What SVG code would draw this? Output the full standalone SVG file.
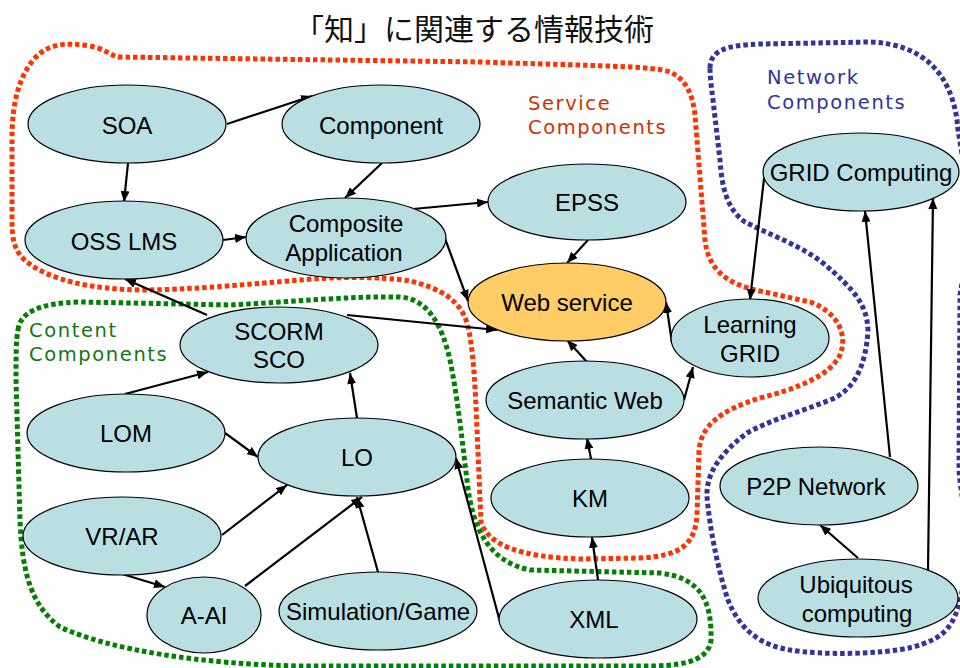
<svg xmlns="http://www.w3.org/2000/svg" width="960" height="668" viewBox="0 0 960 668">
<defs>
<marker id="ah" markerWidth="11" markerHeight="9" refX="11" refY="4.5" orient="auto" markerUnits="userSpaceOnUse"><path d="M0,0 L11,4.5 L0,9 z" fill="#000"/></marker>
<style>
.n ellipse{fill:#B9DFE3;stroke:#000;stroke-width:1.2}
.n text{font-family:"Liberation Sans",Arial,sans-serif;font-size:24px;fill:#000;text-anchor:middle}
.c line{stroke:#000;stroke-width:2.2;marker-end:url(#ah)}
.b{fill:none;stroke-width:5;stroke-dasharray:4.5 3}
.g{font-family:"DejaVu Sans",Verdana,sans-serif;font-size:19.5px;letter-spacing:1.6px}
</style>
</defs>
<rect width="960" height="668" fill="#fff"/>
<text x="474" y="40" text-anchor="middle" font-family="'Noto Sans CJK JP','Noto Sans CJK SC',sans-serif" font-size="30" fill="#111">「知」に関連する情報技術</text>

<g id="boundaries">
<path id="service-boundary" class="b" stroke="#FF3300" d="M118,57 L480,62 C600,66 655,66 670,72 C688,80 693,98 695,115 L705,240 C708,268 725,284 760,291 L810,302 C838,312 848,335 840,355 C830,375 800,388 760,398 C722,410 700,425 699,452 L697,515 C695,545 680,556 640,558 L580,559 C520,557 488,545 481,522 L477,430 C475,380 473,345 467,323 C460,300 440,288 410,281 C380,276 330,277 300,280 C250,284 190,290 140,290 C90,289 50,280 27,262 C12,250 12,235 12,215 L12,140 C12,100 20,75 35,58 C48,44 65,42 90,46 C105,49 110,55 118,57 Z"/>
<path id="content-boundary" class="b" stroke="#008000" d="M18,330 C20,312 40,303 80,302 L230,305 C290,302 350,296 400,297 C428,299 442,325 450,360 C458,400 462,440 467,480 C472,530 490,562 530,570 L660,573 C700,578 712,600 711,640 C709,658 690,665 655,666 L300,666 C200,664 110,650 60,627 C30,605 22,570 20,520 L16,380 C16,355 16,340 18,330 Z"/>
<path id="network-boundary" class="b" stroke="#333399" d="M710,68 C710,50 728,45 760,44 L870,42 C922,44 950,72 957,120 C958,135 962,150 966,180 C970,220 966,260 960,295 L959,470 C960,490 966,510 967,545 C966,575 962,595 958,608 C950,632 938,640 913,647 C880,655 820,655 790,650 C760,645 740,630 728,600 C718,570 710,530 707,497 C706,475 718,455 747,433 C770,420 800,412 830,400 C855,390 866,365 868,330 C867,305 855,290 823,263 C800,245 770,235 745,222 C728,210 722,190 720,160 L713,100 C711,85 710,75 710,68 Z"/>
</g>
<g id="group-labels">
<text class="g" fill="#CC3300" x="528" y="110">Service</text>
<text class="g" fill="#CC3300" x="528" y="134">Components</text>
<text class="g" fill="#333399" x="767" y="84">Network</text>
<text class="g" fill="#333399" x="767" y="109">Components</text>
<text class="g" fill="#117711" x="29" y="337">Content</text>
<text class="g" fill="#117711" x="29" y="361">Components</text>
</g>

<g id="connectors" class="c">
<line x1="227" y1="124" x2="312" y2="96"/>
<line x1="128" y1="163" x2="124" y2="202"/>
<line x1="382" y1="163" x2="345" y2="198"/>
<line x1="223" y1="240" x2="246" y2="237"/>
<line x1="413" y1="209" x2="488" y2="202"/>
<line x1="443" y1="233" x2="468" y2="301"/>
<line x1="588" y1="240" x2="567" y2="263"/>
<line x1="347" y1="315" x2="497" y2="330"/>
<line x1="207" y1="315" x2="125" y2="279"/>
<line x1="672" y1="343" x2="666" y2="302"/>
<line x1="765" y1="170" x2="750" y2="300"/>
<line x1="587" y1="362" x2="567" y2="340"/>
<line x1="684" y1="400" x2="693" y2="367"/>
<line x1="591" y1="459" x2="587" y2="438"/>
<line x1="598" y1="580" x2="592" y2="537"/>
<line x1="500" y1="622" x2="456" y2="458"/>
<line x1="890" y1="457" x2="865" y2="211"/>
<line x1="928" y1="570" x2="933" y2="198"/>
<line x1="858" y1="558" x2="820" y2="525"/>
<line x1="125" y1="394" x2="208" y2="372"/>
<line x1="225" y1="433" x2="258" y2="457"/>
<line x1="357" y1="418" x2="350" y2="373"/>
<line x1="222" y1="535" x2="287" y2="485"/>
<line x1="122" y1="574" x2="165" y2="587"/>
<line x1="245" y1="586" x2="362" y2="497"/>
<line x1="378" y1="572" x2="357" y2="497"/>
</g>

<g id="soa" class="n"><ellipse cx="127" cy="124" rx="99" ry="39"/><text x="127" y="134">SOA</text></g>
<g id="component" class="n"><ellipse cx="381" cy="124" rx="99" ry="39"/><text x="381" y="134">Component</text></g>
<g id="oss-lms" class="n"><ellipse cx="124" cy="240" rx="99" ry="39"/><text x="124" y="250">OSS LMS</text></g>
<g id="composite-application" class="n"><ellipse cx="346" cy="238" rx="100" ry="40"/><text x="346" y="232">Composite</text><text x="344" y="261">Application</text></g>
<g id="epss" class="n"><ellipse cx="587" cy="202" rx="99" ry="38"/><text x="587" y="211">EPSS</text></g>
<g id="web-service" class="n"><ellipse cx="567" cy="302" rx="99" ry="39" style="fill:#FFCC66"/><text x="567" y="311">Web service</text></g>
<g id="grid-computing" class="n"><ellipse cx="861" cy="172" rx="98" ry="39"/><text x="861" y="181">GRID Computing</text></g>
<g id="learning-grid" class="n"><ellipse cx="750" cy="338" rx="79" ry="39"/><text x="750" y="333">Learning</text><text x="750" y="362">GRID</text></g>
<g id="scorm-sco" class="n"><ellipse cx="279" cy="345" rx="99" ry="38"/><text x="279" y="340">SCORM</text><text x="279" y="368">SCO</text></g>
<g id="semantic-web" class="n"><ellipse cx="585" cy="400" rx="99" ry="39"/><text x="585" y="409">Semantic Web</text></g>
<g id="lom" class="n"><ellipse cx="126" cy="433" rx="99" ry="39"/><text x="126" y="442">LOM</text></g>
<g id="lo" class="n"><ellipse cx="357" cy="457" rx="99" ry="39"/><text x="357" y="466">LO</text></g>
<g id="km" class="n"><ellipse cx="590" cy="498" rx="99" ry="39"/><text x="590" y="507">KM</text></g>
<g id="p2p-network" class="n"><ellipse cx="819" cy="486" rx="99" ry="39"/><text x="816" y="495">P2P Network</text></g>
<g id="vr-ar" class="n"><ellipse cx="122" cy="536" rx="99" ry="39"/><text x="122" y="545">VR/AR</text></g>
<g id="a-ai" class="n"><ellipse cx="204" cy="615" rx="57" ry="38"/><text x="204" y="624">A-AI</text></g>
<g id="simulation-game" class="n"><ellipse cx="378" cy="611" rx="99" ry="39"/><text x="378" y="620">Simulation/Game</text></g>
<g id="xml" class="n"><ellipse cx="598" cy="619" rx="99" ry="39"/><text x="594" y="628">XML</text></g>
<g id="ubiquitous-computing" class="n"><ellipse cx="858" cy="598" rx="100" ry="39"/><text x="856" y="593">Ubiquitous</text><text x="857" y="622">computing</text></g>
</svg>
